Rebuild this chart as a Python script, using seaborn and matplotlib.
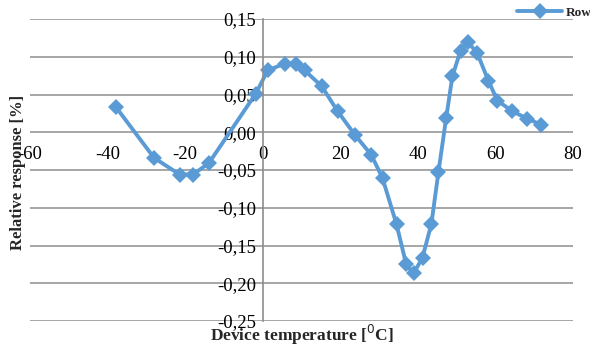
import pandas as pd
import seaborn as sns
import matplotlib.pyplot as plt

# values
temperature = [-37.8, -28.0, -21.4, -18.0, -13.9, -1.8, 1.3, 5.7, 8.5, 10.8, 15.2,
               19.3, 23.7, 28.0, 30.9, 34.5, 37.0, 38.9, 41.2, 43.5, 45.3, 47.3,
               48.9, 51.0, 52.8, 55.3, 58.2, 60.5, 64.3, 68.2, 71.8]
response = [0.033, -0.034, -0.056, -0.056, -0.041, 0.051, 0.082, 0.091, 0.091, 0.082, 0.061,
            0.028, -0.003, -0.030, -0.061, -0.122, -0.175, -0.187, -0.166, -0.121, -0.053, 0.019,
            0.074, 0.108, 0.120, 0.105, 0.068, 0.042, 0.028, 0.018, 0.010]
x_ticks = [-60, -40, -20, 0, 20, 40, 60, 80]
y_ticks = [-0.25, -0.20, -0.15, -0.10, -0.05, 0.00, 0.05, 0.10, 0.15]

df = pd.DataFrame({"t": temperature, "r": response})

sns.set_style("white")
plt.rcParams["font.family"] = ["Liberation Serif", "DejaVu Serif"]

blue = "#5b9bd5"
fig = plt.figure(figsize=(5.9, 3.44), dpi=100)
ax = fig.add_axes([30 / 590, 1 - 321 / 344, 543 / 590, 302 / 344])

sns.lineplot(data=df, x="t", y="r", sort=False, color=blue, linewidth=2.8,
             marker="D", markersize=8.5, markeredgecolor=blue, markeredgewidth=0,
             label="Row", ax=ax, legend=False)

ax.set_xlim(-60, 80)
ax.set_ylim(-0.25, 0.15)
ax.set_xticks(x_ticks)
ax.set_yticks(y_ticks)
ax.set_xticklabels([str(v) for v in x_ticks])
ax.set_yticklabels([f"{v:.2f}".replace(".", ",") for v in y_ticks])
ax.tick_params(axis="both", length=0, labelsize=13.5, colors="black")
ax.tick_params(axis="x", pad=10)
ax.tick_params(axis="y", pad=5)

ax.yaxis.grid(True, color="#a6a6a6", linewidth=1.4)
ax.set_axisbelow(True)
for s in ["top", "right", "bottom"]:
    ax.spines[s].set_visible(False)
ax.spines["left"].set_position(("data", 0))
ax.spines["left"].set_color("#8c8c8c")
ax.spines["left"].set_linewidth(1.2)
ax.spines["bottom"].set_position(("data", 0))

ax.set_xlabel("")
ax.set_ylabel("")
fig.text(302 / 590, 1 - 335 / 344, "Device temperature [$^0$C]", ha="center", va="center",
         fontsize=12.5, fontweight="bold")
fig.text(18 / 590, 1 - 172 / 344, "Relative response [%]", ha="center", va="center",
         rotation=90, fontsize=12, fontweight="bold")

handles, labels = ax.get_legend_handles_labels()
fig.legend(handles, labels, loc="center left", bbox_to_anchor=(512 / 590, 1 - 13 / 344),
           frameon=False, handlelength=3.4, handletextpad=0.3, borderaxespad=0,
           prop={"weight": "bold", "size": 9.5})

fig.savefig("out.png", dpi=100)
